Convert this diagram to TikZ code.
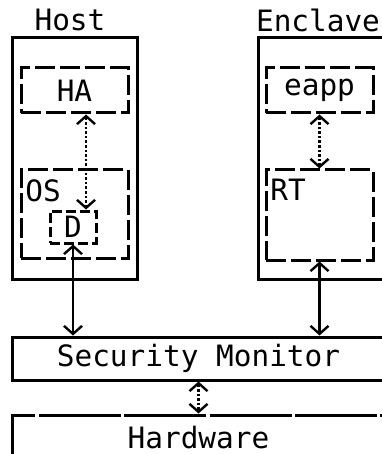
\documentclass[tikz,border=0pt]{standalone}
\usepackage{fontspec}
\setmonofont{DejaVu Sans Mono}
\usepackage{tikz}
\usetikzlibrary{arrows.meta}

\tikzset{
	box/.style={draw, line width=1.5pt, inner sep=0pt},
	dbox/.style={draw, line width=1.5pt, inner sep=0pt, dash pattern=on 10pt off 2.5pt},
	small dbox/.style={draw, line width=1.5pt, inner sep=0pt, dash pattern=on 5pt off 2pt},
	hw box/.style={draw, line width=1.5pt, inner sep=0pt, dash pattern=on 41pt off 1.7pt},
	lbl/.style={font=\ttfamily\fontsize{14.7}{17}\selectfont},
	link/.style={line width=1.2pt, {Straight Barb[length=4pt,width=9pt]}-{Straight Barb[length=4pt,width=9pt]}},
	dotlink/.style={link, dash pattern=on 1.3pt off 1pt},
}

\begin{document}
\begin{tikzpicture}[x=0.5pt, y=-0.5pt]
	\useasboundingbox (0,0) rectangle (381,454);

	% host side
	\node[lbl] (hostlbl) at (70,20) {Host};
	\node[box, minimum width=62.5pt, minimum height=120.5pt] (host) at (74.5,158.5) {};
	\node[dbox, lbl, minimum width=53.5pt, minimum height=22.5pt] (HA) at (74.5,90.5) {HA};
	\node[dbox, minimum width=53.5pt, minimum height=44pt] (OS) at (74.5,214) {};
	\node[lbl, anchor=north west, inner sep=0pt] (oslbl) at (25,179) {OS};
	\node[small dbox, lbl, minimum width=23pt, minimum height=16pt] (D) at (73,227) {D};

	% enclave side
	\node[lbl] (enclbl) at (318,20) {Enclave};
	\node[box, minimum width=62.5pt, minimum height=120.5pt] (enclave) at (320.5,158.5) {};
	\node[dbox, lbl, minimum width=53.5pt, minimum height=22.5pt] (eapp) at (319.5,90.5) {eapp};
	\node[dbox, minimum width=53.5pt, minimum height=45pt] (RT) at (319.5,215) {};
	\node[lbl, anchor=north west, inner sep=0pt] (rtlbl) at (270,179) {RT};

	% lower layers
	\node[box, lbl, minimum width=186.5pt, minimum height=21.5pt] (SM) at (198.5,358.5) {Security Monitor};
	\node[hw box, lbl, minimum width=186.5pt, minimum height=23pt] (HW) at (198.5,438) {Hardware};

	% links
	\coordinate (hd) at (86,0);
	\draw[dotlink] (HA.south -| hd) -- (D.north -| hd);
	\draw[link] (D.south) -- (D.south |- SM.north);
	\draw[dotlink] (eapp.south) -- (RT.north);
	\draw[link] (RT.south) -- (RT.south |- SM.north);
	\draw[dotlink] (SM.south) -- (HW.north);
\end{tikzpicture}
\end{document}
